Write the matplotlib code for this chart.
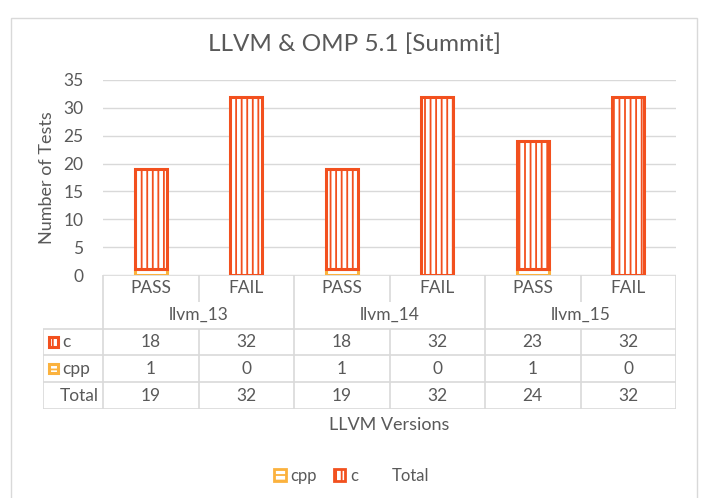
import matplotlib
matplotlib.use('Agg')
import matplotlib.pyplot as plt
from matplotlib.patches import Patch, Rectangle

plt.rcParams['font.family'] = ['Lato', 'DejaVu Sans']
plt.rcParams['hatch.linewidth'] = 1.3

versions = ['llvm_13', 'llvm_14', 'llvm_15']
results = ['PASS', 'FAIL', 'PASS', 'FAIL', 'PASS', 'FAIL']
c_vals = [18, 32, 18, 32, 23, 32]
cpp_vals = [1, 0, 1, 0, 1, 0]
total_vals = [19, 32, 19, 32, 24, 32]

C_COL = '#F2501E'
CPP_COL = '#FBB23E'
TXT = '#595959'
GRID = '#D9D9D9'

W, H = 703, 498
fig = plt.figure(figsize=(W / 100, H / 100), dpi=100)

# chart border
fig.patches.append(Rectangle((11 / W, -0.01), 686 / W, 1 - 18 / H + 0.01,
                             transform=fig.transFigure, fill=False,
                             edgecolor=GRID, linewidth=1))

x0, x1 = 103, 676
ytop, ybot = 80, 275
ax = fig.add_axes([x0 / W, 1 - ybot / H, (x1 - x0) / W, (ybot - ytop) / H])
xs = list(range(len(results)))
ax.bar(xs, cpp_vals, width=0.34, color='white', edgecolor=CPP_COL,
       hatch='---', linewidth=2.2)
ax.bar(xs, c_vals, bottom=cpp_vals, width=0.34, color='white',
       edgecolor=C_COL, hatch='|||', linewidth=2.2)
ax.set_xlim(-0.5, 5.5)
ax.set_ylim(0, 35)
ax.set_yticks(range(0, 36, 5))
ax.yaxis.grid(True, color=GRID, linewidth=1)
ax.set_axisbelow(True)
ax.set_xticks([])
for s in ax.spines.values():
    s.set_visible(False)
ax.tick_params(axis='y', length=0, pad=14, labelsize=12.5, labelcolor=TXT)
ax.set_ylabel('Number of Tests', fontsize=13, color=TXT, labelpad=6)
fig.text(354 / W, 1 - 44 / H, 'LLVM & OMP 5.1 [Summit]', ha='center',
         va='center', fontsize=17.5, color=TXT)

# data table below the plot
col_w = (x1 - x0) / 6
left = -0.5 - (x0 - 43) / col_w
tab = fig.add_axes([43 / W, 1 - 409 / H, (x1 - 43) / W, (409 - 275) / H])
tab.set_xlim(left, 5.5)
tab.set_ylim(5, 0)
tab.axis('off')
lk = dict(color=GRID, linewidth=1.2, solid_capstyle='butt')
tab.plot([-0.5, 5.5], [0, 0], **lk)
for xv in [-0.5, 1.5, 3.5, 5.5]:
    tab.plot([xv, xv], [0, 5], **lk)
for xv in [0.5, 2.5, 4.5]:
    tab.plot([xv, xv], [0, 1], **lk)
    tab.plot([xv, xv], [2, 5], **lk)
for yv in [2, 3, 4, 5]:
    tab.plot([left, 5.5], [yv, yv], **lk)
tab.plot([left, left], [2, 5], **lk)

fs = 12.5
for i, r in enumerate(results):
    tab.text(i, 0.5, r, ha='center', va='center', fontsize=fs, color=TXT)
for g, v in enumerate(versions):
    tab.text(2 * g + 0.5, 1.5, v, ha='center', va='center', fontsize=fs, color=TXT)
rows = [('c', c_vals), ('cpp', cpp_vals), ('Total', total_vals)]
for j, (name, vals) in enumerate(rows):
    yc = 2.5 + j
    for i, v in enumerate(vals):
        tab.text(i, yc, str(v), ha='center', va='center', fontsize=fs, color=TXT)
    if name == 'Total':
        tab.text(-0.5 - 0.04, yc, name, ha='right', va='center', fontsize=fs, color=TXT)
    else:
        tab.text(left + 0.2, yc, name, ha='left', va='center', fontsize=fs, color=TXT)
# legend keys in table
sq_w = 9 / col_w
tab.add_patch(Rectangle((left + 0.06, 2.5 - 0.17), sq_w, 0.34,
                        facecolor='white', edgecolor=C_COL, hatch='|||',
                        linewidth=2.2))
tab.add_patch(Rectangle((left + 0.06, 3.5 - 0.17), sq_w, 0.34,
                        facecolor='white', edgecolor=CPP_COL, hatch='---',
                        linewidth=2.2))

fig.text((x0 + x1) / 2 / W, 1 - 425 / H, 'LLVM Versions', ha='center',
         va='center', fontsize=13, color=TXT)

handles = [Patch(facecolor='white', edgecolor=CPP_COL, hatch='---', linewidth=2),
           Patch(facecolor='white', edgecolor=C_COL, hatch='|||', linewidth=2),
           Patch(facecolor='none', edgecolor='none')]
fig.legend(handles, ['cpp', 'c', 'Total'], loc='center',
           bbox_to_anchor=(0.5, 1 - 476 / H), ncol=3, frameon=False,
           fontsize=12, handlelength=0.7, handleheight=0.7,
           handletextpad=0.3, columnspacing=1.0, labelcolor=TXT)

fig.savefig('out.png', dpi=100)
